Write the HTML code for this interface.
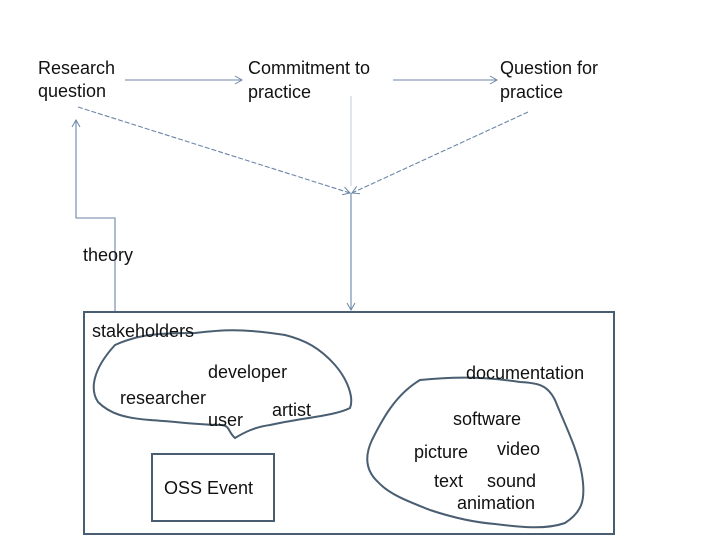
<!DOCTYPE html>
<html><head><style>
body{margin:0;background:#fff;}
svg{display:block;font-family:"Liberation Sans",sans-serif;}
text{font-size:18px;fill:#111;}
</style></head><body>
<svg width="720" height="540" viewBox="0 0 720 540">
<defs>
<marker id="a" markerWidth="10" markerHeight="10" refX="8" refY="5" orient="auto" markerUnits="userSpaceOnUse">
<path d="M1,1 L8,5 L1,9" fill="none" stroke="#6c86a8" stroke-width="1"/></marker>
</defs>
<g stroke="#6c86a8" stroke-width="1.1" fill="none">
<line x1="125" y1="80" x2="242" y2="80" marker-end="url(#a)"/>
<line x1="393" y1="80" x2="497" y2="80" marker-end="url(#a)"/>
<line x1="78" y1="107" x2="350" y2="193" stroke-dasharray="5,2" marker-end="url(#a)"/>
<line x1="528" y1="112" x2="352" y2="193" stroke-dasharray="5,2" marker-end="url(#a)"/>
<line x1="351" y1="96" x2="351" y2="186" stroke="#c8d2de"/>
<line x1="351" y1="193" x2="351" y2="310" marker-end="url(#a)"/>
<polyline points="115,312 115,218 76,218 76,120" marker-end="url(#a)"/>
</g>
<rect x="84" y="312" width="530" height="222" fill="none" stroke="#4a5e72" stroke-width="2"/>
<rect x="152" y="454" width="122" height="67" fill="none" stroke="#4a5e72" stroke-width="2"/>
<g stroke="#4a5e72" stroke-width="2" fill="none">
<path d="M115,345 C135,336 150,333 195,333 C220,330 240,328 285,335 C305,340 320,348 335,365 C348,380 354,398 350,408 C335,416 300,418 270,425 C255,427 245,432 235,438 C228,432 230,426 222,425 C200,425 180,422 150,420 C125,418 110,414 98,402 C90,390 92,370 115,345Z"/>
<path d="M420,380 C450,377 480,376 520,382 C540,383 548,386 555,400 C565,425 578,450 582,475 C586,500 582,512 565,523 C545,530 520,527 495,524 C470,522 445,515 430,510 C410,502 390,495 378,482 C365,470 365,455 372,440 C382,420 395,395 420,380Z"/>
</g>
<text x="38" y="74">Research</text>
<text x="38" y="97">question</text>
<text x="248" y="74">Commitment to</text>
<text x="248" y="98">practice</text>
<text x="500" y="74">Question for</text>
<text x="500" y="98">practice</text>
<text x="83" y="261">theory</text>
<text x="92" y="337">stakeholders</text>
<text x="208" y="378">developer</text>
<text x="120" y="404">researcher</text>
<text x="272" y="416">artist</text>
<text x="208" y="426">user</text>
<text x="466" y="379">documentation</text>
<text x="453" y="425">software</text>
<text x="414" y="458">picture</text>
<text x="497" y="455">video</text>
<text x="434" y="487">text</text>
<text x="487" y="487">sound</text>
<text x="457" y="509">animation</text>
<text x="164" y="494">OSS Event</text>
</svg>
</body></html>
